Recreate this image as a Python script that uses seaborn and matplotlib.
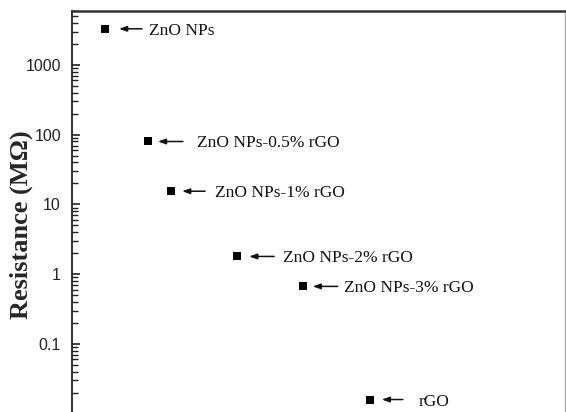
import numpy as np
import pandas as pd
import matplotlib
matplotlib.use("Agg")
import matplotlib.pyplot as plt
from matplotlib.ticker import LogLocator, NullFormatter, FixedLocator, FixedFormatter
import seaborn as sns

# Samples and their measured resistance (MOhm)
samples = ["ZnO NPs", "ZnO NPs-0.5% rGO", "ZnO NPs-1% rGO",
           "ZnO NPs-2% rGO", "ZnO NPs-3% rGO", "rGO"]
sample_pos = [6.7, 15.4, 20.1, 33.5, 46.8, 60.4]
resistance = [3300, 80, 15.5, 1.8, 0.67, 0.016]

ytick_vals = [0.1, 1, 10, 100, 1000]
ytick_labels = ["0.1", "1", "10", "100", "1000"]

df = pd.DataFrame({"sample": samples, "pos": sample_pos, "R": resistance})

sns.set_style("white")
plt.rcParams["font.family"] = ["Liberation Sans", "DejaVu Sans"]

fig = plt.figure(figsize=(5.66, 4.12), dpi=100)
ax = fig.add_axes([72 / 566, 0.0, (565 - 72) / 566, (412 - 10.7) / 412])

sns.scatterplot(data=df, x="pos", y="R", marker="s", s=30, color="black",
                edgecolor="black", linewidth=0, ax=ax, legend=False)

ax.set_yscale("log")
ax.set_ylim(0.0106, 6000)
ax.set_xlim(0, 100)

ax.yaxis.set_major_locator(FixedLocator(ytick_vals))
ax.yaxis.set_major_formatter(FixedFormatter(ytick_labels))
ax.yaxis.set_minor_locator(LogLocator(base=10, subs=np.arange(2, 10), numticks=20))
ax.yaxis.set_minor_formatter(NullFormatter())
ax.tick_params(axis="y", which="major", direction="in", length=6, width=1.2,
               labelsize=11.5, pad=8, left=True, colors="#222222")
ax.tick_params(axis="y", which="minor", direction="in", length=4, width=1.0,
               left=True, color="#222222")
ax.set_xticks([])
ax.set_xlabel("")

ax.set_ylabel("Resistance (M\u03a9)", fontsize=19, fontweight="bold",
              family=["Liberation Serif", "DejaVu Serif"])
ax.yaxis.set_label_coords(-0.079, 0.467)

for side in ["left", "top", "right", "bottom"]:
    ax.spines[side].set_visible(True)
ax.spines["left"].set_color("#222222")
ax.spines["left"].set_linewidth(1.3)
ax.spines["top"].set_color("#333333")
ax.spines["top"].set_linewidth(1.8)
ax.spines["right"].set_color("#aaaaaa")
ax.spines["right"].set_linewidth(1.0)
ax.spines["bottom"].set_visible(False)

# arrow head / tail / text gaps to the right of each marker, in pixels
head_gap = [14, 10, 11, 12, 10, 12]
tail_gap = [37, 35, 34, 37, 35, 33]
text_gap = [44, 49, 44, 46, 41, 49]
px = 72.0 / fig.dpi

for (name, xv, yv), hg, tg, xg in zip(zip(samples, sample_pos, resistance),
                                      head_gap, tail_gap, text_gap):
    ax.annotate("", xy=(xv, yv), xycoords="data",
                xytext=(tg * px, 0), textcoords="offset points",
                arrowprops=dict(arrowstyle="-|>,head_length=0.45,head_width=0.16",
                                color="#111111", lw=1.1,
                                shrinkA=0, shrinkB=hg * px))
    ax.annotate(name, xy=(xv, yv), xycoords="data",
                xytext=(xg * px, 0), textcoords="offset points",
                ha="left", va="center_baseline", fontsize=12.5,
                family=["Liberation Serif", "DejaVu Serif"], color="#111111")

fig.savefig("out.png", dpi=100)
